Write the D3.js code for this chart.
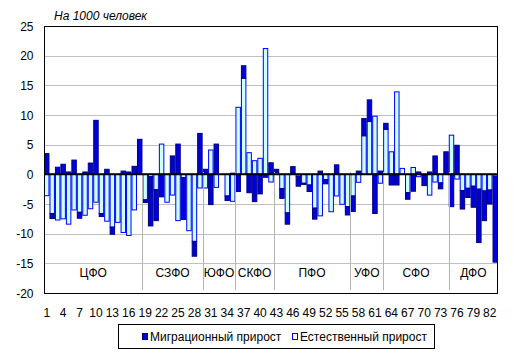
<!DOCTYPE html>
<html>
<head>
<meta charset="utf-8">
<script src="https://cdn.jsdelivr.net/npm/d3@7"></script>
<style>
body { margin: 0; background: #fff; }
svg { font-family: Arial, "Liberation Sans", sans-serif; font-size: 12px; }
</style>
</head>
<body>
<script>
// Номера регионов (1..83)
var regions = d3.range(1, 84)

// Естественный прирост, на 1000 человек
var natural = [-3.6, -6.6, -7.7, -7.5, -8.4, -6.0, -6.4, -6.9, -5.8, -4.7,
    -6.6, -7.9, -8.9, -8.1, -9.8, -10.3, -6.0, 0.1,
    -4.3, -0.4, -2.6, 5.1, -4.7, -3.5, -7.8, -0.55, -9.5, -11.3, -2.3,
    -2.3, 4.1, -2.2, 0, -3.65, -4.55,
    11.3, 16.2, 3.65, 2.3, 2.7, 21.2, -1.3,
    0.3, -2.4, -6.5, 0.2, -0.3, -1.5, -1.8, -5.7, -7.0, -0.9, -6.3, -3.65, -5.05, -5.45,
    -3.65, -1.35, 6.5, 8.9, 9.8, -1.5,
    7.6, 3.8, 13.9, 1.0, -3.1, 1.15, -0.4, -0.2, -3.5, -1.3, -1.45, 0,
    6.6, -0.8, -2.75, -2.35, -2.0, -2.5, -2.8, -2.65, -0.3]

// Миграционный прирост, на 1000 человек
var migration = [3.5, -0.85, 1.2, 1.7, 0.4, 2.4, -1.0, 0.4, 1.9, 9.1,
    -0.5, 0.85, -1.2, 0, 0.55, 0.4, 1.35, 5.8,
    -0.45, -8.3, -5.2, -3.8, 0, 3.1, 5.1, -7.05, 0, -2.5, 6.9,
    0.85, -5.1, 5.1, 0, -0.75, 0.2,
    -2.9, 2.1, -3.1, -4.6, -3.3, -0.5, 1.95,
    0.55, -1.65, -1.9, 1.1, -1.7, -0.2, -1.1, -1.85, 0.55, -0.7, 0, 1.6, 0, -1.4,
    -2.6, 0.55, 2.9, 3.65, -6.6, 0.55,
    1.0, -1.8, -1.8, 0, -1.1, -2.85, 0.4, -1.7, 0.4, 3.1, -1.0, 3.8,
    -5.45, 4.9, -3.1, -1.55, -3.55, -9.0, -5.0, -2.35, -14.5]

// Федеральные округа и число регионов в каждом
var districts = ["ЦФО", "СЗФО", "ЮФО", "СКФО", "ПФО", "УФО", "СФО", "ДФО"]
var districtSize = [18, 11, 6, 7, 14, 6, 12, 9]

var yTicks = [-20, -15, -10, -5, 0, 5, 10, 15, 20, 25]
var seriesNames = ["Миграционный прирост", "Естественный прирост"]

var width = 514, height = 360
var margin = { top: 26, right: 16, bottom: 67, left: 44 }

var svg = d3.select("body").append("svg")
    .attr("width", width)
    .attr("height", height)

var x = d3.scaleBand()
    .domain(regions)
    .range([margin.left, width - margin.right])
    .padding(0)

var y = d3.scaleLinear()
    .domain([-20, 25])
    .range([height - margin.bottom, margin.top])

//Horizontal grid lines
svg.append("g")
    .selectAll("line")
    .data(yTicks)
    .enter().append("line")
    .attr("x1", margin.left)
    .attr("x2", width - margin.right)
    .attr("y1", d => Math.round(y(d)) + 0.5)
    .attr("y2", d => Math.round(y(d)) + 0.5)
    .attr("stroke", "#c0c0c0")

//Y tick labels
svg.append("g")
    .selectAll("text")
    .data(yTicks)
    .enter().append("text")
    .attr("x", 33.5)
    .attr("y", d => y(d) + 4.5)
    .attr("text-anchor", "end")
    .attr("fill", "#000")
    .text(d => d)

// Table for the stack, natural growth sits next to zero
var rows = regions.map((r, i) => ({ region: r, nat: natural[i], mig: migration[i] }))

var stack = d3.stack()
    .keys(["nat", "mig"])
    .offset(d3.stackOffsetDiverging)

var series = stack(rows)
var fills = { nat: "#ccffff", mig: "#0000dd" }
var strokes = { nat: "#0000ff", mig: "#000080" }

svg.append("g")
    .selectAll("g")
    .data(series)
    .enter().append("g")
    .attr("fill", d => fills[d.key])
    .attr("stroke", d => strokes[d.key])
    .attr("stroke-width", 1)
    .selectAll("rect")
    .data(d => d.filter(p => p[1] !== p[0]))
    .enter().append("rect")
    .attr("x", p => x(p.data.region) + 0.5)
    .attr("width", x.bandwidth() - 1)
    .attr("y", p => y(Math.max(p[0], p[1])))
    .attr("height", p => Math.abs(y(p[0]) - y(p[1])))

//District separators and labels
var bounds = []
var start = 0
districtSize.forEach((n, i) => {
    bounds.push({ name: districts[i], from: start, to: start + n })
    start += n
})

svg.append("g")
    .selectAll("line")
    .data(bounds.slice(0, -1))
    .enter().append("line")
    .attr("x1", d => Math.round(x(regions[d.to])) + 0.5)
    .attr("x2", d => Math.round(x(regions[d.to])) + 0.5)
    .attr("y1", y(0.4))
    .attr("y2", y(-19.5))
    .attr("stroke", "#b4b4b4")

svg.append("g")
    .selectAll("text")
    .data(bounds)
    .enter().append("text")
    .attr("x", d => (x(regions[d.from]) + x(regions[d.to - 1]) + x.bandwidth()) / 2)
    .attr("y", 277)
    .attr("text-anchor", "middle")
    .attr("fill", "#000")
    .text(d => d.name)

//Zero line
svg.append("line")
    .attr("x1", margin.left)
    .attr("x2", width - margin.right)
    .attr("y1", y(0))
    .attr("y2", y(0))
    .attr("stroke", "#000")
    .attr("stroke-width", 2)

//Plot frame
svg.append("rect")
    .attr("x", margin.left + 0.5)
    .attr("y", margin.top + 0.5)
    .attr("width", width - margin.left - margin.right - 1)
    .attr("height", height - margin.top - margin.bottom)
    .attr("fill", "none")
    .attr("stroke", "#000")

//X tick labels, every third region
svg.append("g")
    .selectAll("text")
    .data(regions.filter((r, i) => i % 3 === 0))
    .enter().append("text")
    .attr("x", d => x(d) + x.bandwidth() / 2)
    .attr("y", 317)
    .attr("text-anchor", "middle")
    .attr("fill", "#000")
    .text(d => d)

//Units caption
svg.append("text")
    .attr("x", 54)
    .attr("y", 20)
    .attr("font-style", "italic")
    .attr("fill", "#000")
    .text("На 1000 человек")

//Legend
var legend = svg.append("g")
legend.append("rect")
    .attr("x", 118.5)
    .attr("y", 324.5)
    .attr("width", 316)
    .attr("height", 24)
    .attr("fill", "#fff")
    .attr("stroke", "#000")

var legendX = [142, 292]
var legendKeys = ["mig", "nat"]
legendKeys.forEach((k, i) => {
    legend.append("rect")
        .attr("x", legendX[i] + 0.5)
        .attr("y", 333.5)
        .attr("width", 5)
        .attr("height", 6)
        .attr("fill", k === "mig" ? "#0000dd" : "#fff")
        .attr("stroke", k === "mig" ? "#000080" : "#0000ff")
    legend.append("text")
        .attr("x", legendX[i] + 8)
        .attr("y", 340.5)
        .attr("fill", "#000")
        .text(seriesNames[i])
})
</script>
</body>
</html>
